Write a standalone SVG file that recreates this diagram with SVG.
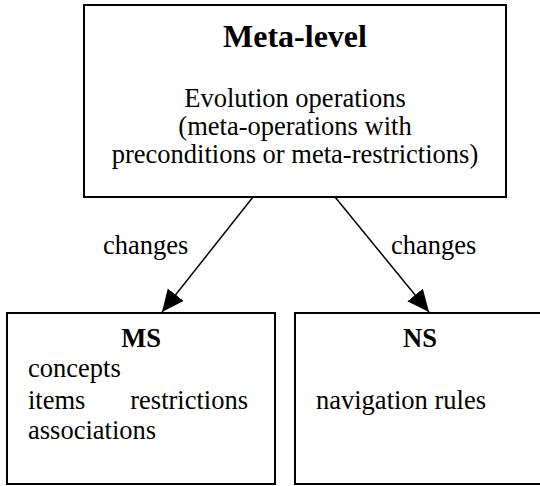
<svg xmlns="http://www.w3.org/2000/svg" width="540" height="486" viewBox="0 0 540 486">
  <style>
    .box { fill: #ffffff; stroke: #000000; stroke-width: 2; }
    .edge { stroke: #000000; stroke-width: 1.5; fill: none; }
    text { font-family: "Liberation Serif", "Times New Roman", serif; fill: #000000; }
    .title { font-size: 32px; font-weight: bold; text-anchor: middle; }
    .head { font-size: 26.5px; font-weight: bold; text-anchor: middle; }
    .body { font-size: 26.5px; }
    .mid { text-anchor: middle; }
  </style>
  <defs>
    <marker id="arrow" markerUnits="userSpaceOnUse" markerWidth="24" markerHeight="22" refX="22" refY="10" orient="auto">
      <path d="M0,0 L22,10 L0,20 z" fill="#000000"/>
    </marker>
  </defs>

  <rect width="540" height="486" fill="#ffffff"/>

  <g id="meta-level">
    <rect class="box" x="84" y="5" width="422" height="192"/>
    <text class="title" x="295" y="47">Meta-level</text>
    <text class="body mid" x="295" y="107">Evolution operations</text>
    <text class="body mid" x="295" y="135">(meta-operations with</text>
    <text class="body mid" x="295" y="163">preconditions or meta-restrictions)</text>
  </g>

  <g id="ms">
    <rect class="box" x="7" y="313" width="268" height="171"/>
    <text class="head" x="141" y="347">MS</text>
    <text class="body" x="28" y="377">concepts</text>
    <text class="body" x="28" y="409">items</text>
    <text class="body" x="248" y="409" text-anchor="end">restrictions</text>
    <text class="body" x="28" y="439">associations</text>
  </g>

  <g id="ns">
    <rect class="box" x="295" y="313" width="252" height="171"/>
    <text class="head" x="420" y="347">NS</text>
    <text class="body" x="316" y="409">navigation rules</text>
  </g>

  <g id="connectors">
    <line class="edge" x1="253" y1="197" x2="162" y2="312" marker-end="url(#arrow)"/>
    <text class="body" x="103" y="254">changes</text>
    <line class="edge" x1="335" y1="197" x2="429" y2="312" marker-end="url(#arrow)"/>
    <text class="body" x="391" y="254">changes</text>
  </g>
</svg>
